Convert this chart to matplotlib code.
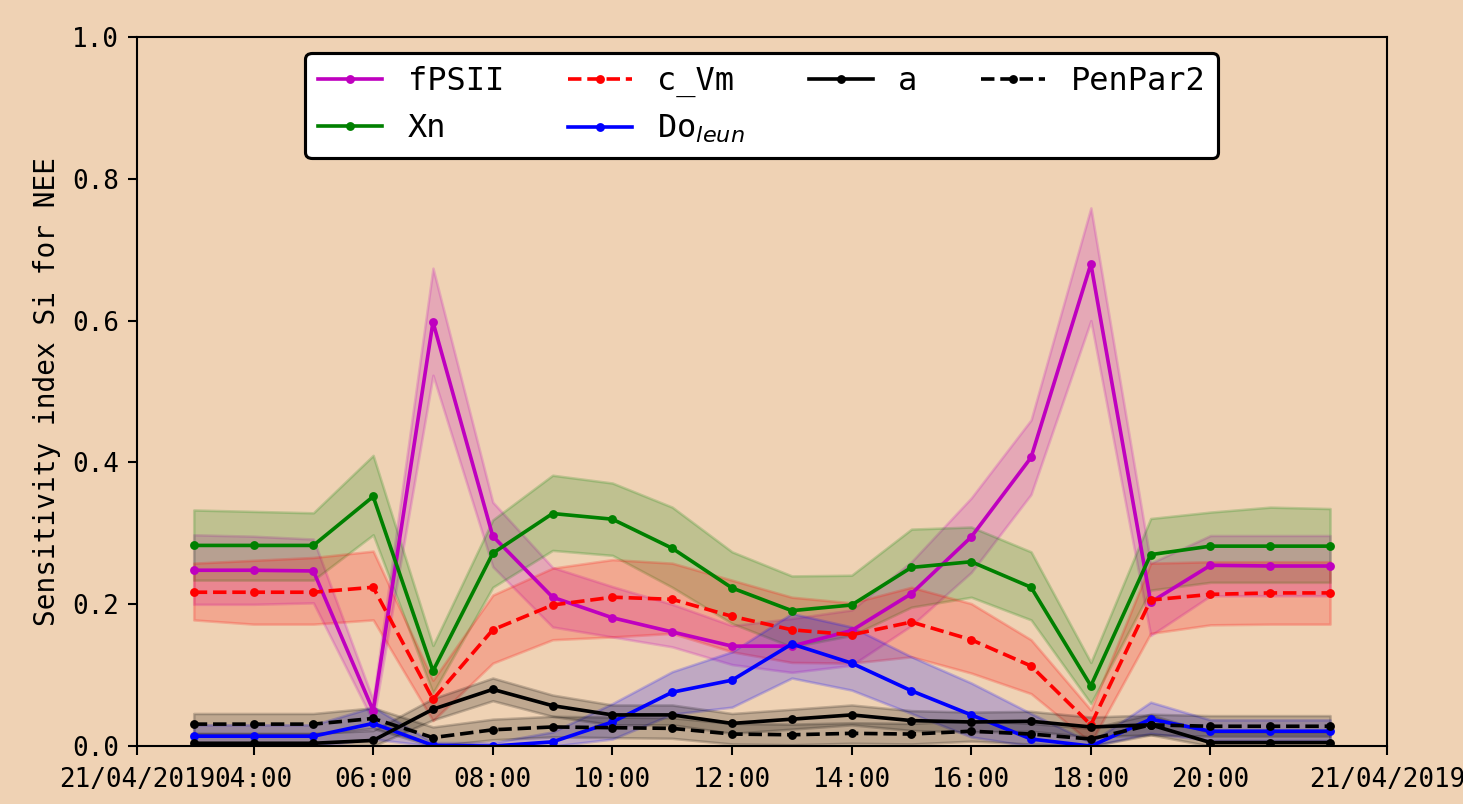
"""Sensitivity index (Si) for NEE over one day, hourly, with uncertainty bands."""

from datetime import datetime, timedelta

import matplotlib
matplotlib.use("Agg")
import matplotlib.pyplot as plt
import matplotlib.dates as mdates

hours = list(range(3, 23))

fpsii = [0.248, 0.248, 0.247, 0.050, 0.598, 0.296, 0.210, 0.181, 0.161, 0.141,
         0.141, 0.163, 0.215, 0.295, 0.407, 0.680, 0.203, 0.255, 0.254, 0.254]
fpsii_lo = [0.200, 0.200, 0.202, 0.035, 0.523, 0.253, 0.168, 0.154, 0.140, 0.115,
            0.104, 0.114, 0.170, 0.245, 0.355, 0.600, 0.156, 0.212, 0.212, 0.212]
fpsii_hi = [0.298, 0.296, 0.292, 0.065, 0.674, 0.344, 0.252, 0.225, 0.200, 0.170,
            0.180, 0.192, 0.260, 0.350, 0.460, 0.759, 0.258, 0.297, 0.297, 0.297]

xn = [0.283, 0.283, 0.283, 0.352, 0.106, 0.272, 0.328, 0.320, 0.279, 0.223,
      0.191, 0.199, 0.252, 0.260, 0.224, 0.085, 0.270, 0.282, 0.282, 0.282]
xn_lo = [0.234, 0.234, 0.234, 0.298, 0.075, 0.224, 0.276, 0.269, 0.224, 0.173,
         0.140, 0.156, 0.196, 0.210, 0.178, 0.060, 0.220, 0.231, 0.231, 0.231]
xn_hi = [0.333, 0.331, 0.329, 0.410, 0.142, 0.319, 0.382, 0.371, 0.337, 0.274,
         0.240, 0.241, 0.306, 0.309, 0.274, 0.118, 0.321, 0.330, 0.337, 0.335]

c_vm = [0.217, 0.217, 0.217, 0.224, 0.066, 0.164, 0.199, 0.210, 0.207, 0.183,
        0.164, 0.157, 0.175, 0.150, 0.113, 0.030, 0.206, 0.214, 0.216, 0.216]
c_vm_lo = [0.178, 0.172, 0.172, 0.178, 0.036, 0.117, 0.150, 0.154, 0.159, 0.133,
           0.118, 0.117, 0.126, 0.103, 0.074, 0.005, 0.159, 0.171, 0.172, 0.172]
c_vm_hi = [0.258, 0.262, 0.266, 0.275, 0.093, 0.213, 0.251, 0.263, 0.258, 0.234,
           0.210, 0.202, 0.224, 0.201, 0.150, 0.051, 0.258, 0.260, 0.260, 0.260]

do_leun = [0.014, 0.014, 0.014, 0.032, 0.001, 0.000, 0.006, 0.034, 0.076, 0.093,
           0.144, 0.117, 0.078, 0.044, 0.010, 0.000, 0.038, 0.021, 0.021, 0.021]
do_leun_lo = [0.000, 0.000, 0.000, 0.010, 0.000, 0.000, 0.000, 0.010, 0.045, 0.055,
              0.096, 0.079, 0.046, 0.013, 0.000, 0.000, 0.018, 0.008, 0.008, 0.008]
do_leun_hi = [0.030, 0.030, 0.030, 0.055, 0.005, 0.005, 0.020, 0.060, 0.105, 0.133,
              0.187, 0.168, 0.126, 0.089, 0.046, 0.005, 0.062, 0.037, 0.037, 0.037]

a = [0.004, 0.004, 0.004, 0.008, 0.052, 0.080, 0.057, 0.044, 0.044, 0.032,
     0.038, 0.044, 0.036, 0.034, 0.035, 0.027, 0.030, 0.005, 0.005, 0.005]
a_lo = [0.000, 0.000, 0.000, 0.000, 0.037, 0.064, 0.042, 0.030, 0.030, 0.018,
        0.024, 0.030, 0.022, 0.020, 0.021, 0.013, 0.016, 0.000, 0.000, 0.000]
a_hi = [0.018, 0.018, 0.018, 0.022, 0.067, 0.096, 0.072, 0.058, 0.058, 0.046,
        0.052, 0.058, 0.050, 0.048, 0.049, 0.041, 0.044, 0.019, 0.019, 0.019]

penpar2 = [0.031, 0.031, 0.031, 0.039, 0.012, 0.023, 0.027, 0.026, 0.025, 0.017,
           0.016, 0.018, 0.017, 0.021, 0.017, 0.010, 0.030, 0.028, 0.028, 0.028]
penpar2_lo = [0.017, 0.017, 0.017, 0.025, 0.000, 0.009, 0.013, 0.012, 0.011, 0.003,
              0.002, 0.004, 0.003, 0.007, 0.003, 0.000, 0.016, 0.014, 0.014, 0.014]
penpar2_hi = [0.046, 0.046, 0.046, 0.054, 0.027, 0.038, 0.042, 0.041, 0.040, 0.032,
              0.031, 0.033, 0.032, 0.036, 0.032, 0.025, 0.045, 0.043, 0.043, 0.043]

series = [
    ("fPSII", fpsii, fpsii_lo, fpsii_hi, "m", "-"),
    ("Xn", xn, xn_lo, xn_hi, "g", "-"),
    ("c_Vm", c_vm, c_vm_lo, c_vm_hi, "r", "--"),
    (r"Do$_{leun}$", do_leun, do_leun_lo, do_leun_hi, "b", "-"),
    ("a", a, a_lo, a_hi, "k", "-"),
    ("PenPar2", penpar2, penpar2_lo, penpar2_hi, "k", "--"),
]

BG = "#efd2b4"

plt.rcParams["font.family"] = ["DejaVu Sans Mono"]

day = datetime(2019, 4, 21)
times = [day + timedelta(hours=h) for h in hours]

dpi = 187
fig = plt.figure(figsize=(1463 / dpi, 804 / dpi), dpi=dpi, facecolor=BG)
ax = fig.add_axes([0.0936, 0.072, 0.8544, 0.882], facecolor=BG)

for label, mean, lo, hi, color, ls in series:
    ax.fill_between(times, lo, hi, color=color, alpha=0.2)
    ax.plot(times, mean, color=color, linestyle=ls, marker="o",
            markersize=2.4, linewidth=1.4, label=label)

ax.set_ylim(0, 1.0)
ax.set_yticks([0.0, 0.2, 0.4, 0.6, 0.8, 1.0])
ax.set_ylabel("Sensitivity index Si for NEE", fontsize=10.7)

lo_x, hi_x = ax.get_xlim()
tick_hours = [day + timedelta(hours=h) for h in range(4, 21, 2)]
ticks = [lo_x] + [mdates.date2num(t) for t in tick_hours] + [hi_x]
labels = ["21/04/2019"] + [t.strftime("%H:%M") for t in tick_hours] + ["21/04/2019"]
ax.set_xticks(ticks)
ax.set_xticklabels(labels)
ax.set_xlim(lo_x, hi_x)
ax.tick_params(labelsize=10)
ax.tick_params(axis="x", pad=4.5)

leg = ax.legend(loc="upper center", ncol=4, fontsize=12.3, framealpha=1,
                edgecolor="k", facecolor="white")
leg.get_frame().set_linewidth(1.2)

fig.savefig("out.png", dpi=dpi, facecolor=BG)
